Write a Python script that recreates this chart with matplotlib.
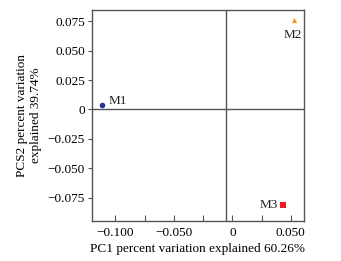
import matplotlib

matplotlib.use("Agg")

import matplotlib.pyplot as plt

plt.rcParams["font.family"] = ["Liberation Serif", "DejaVu Serif"]

# PCA scores
samples = ["M1", "M2", "M3"]
pc1 = [-0.1117, 0.0528, 0.0437]
pc2 = [0.0038, 0.0764, -0.0815]
colors = ["#2e3192", "#f7931e", "#ed1c24"]
markers = ["o", "^", "s"]
marker_sizes = [16, 14, 20]
label_offsets = [(5, 3), (-1, -11), (-17, 0)]
label_ha = ["left", "center", "left"]

x_ticks = [-0.100, -0.075, -0.050, -0.025, 0, 0.025, 0.050]
x_tick_labels = ["\u22120.100", "", "\u22120.050", "", "0", "", "0.050"]
y_ticks = [-0.075, -0.050, -0.025, 0, 0.025, 0.050, 0.075]
y_tick_labels = ["\u22120.075", "\u22120.050", "\u22120.025", "0", "0.025", "0.050", "0.075"]

fig = plt.figure(figsize=(3.41, 2.61), dpi=100)
ax = fig.add_axes([92 / 341, 1 - 221 / 261, 212 / 341, 211.5 / 261])

frame = "#555555"
ax.axhline(0, color=frame, linewidth=1.0, zorder=1)
ax.axvline(-0.005, color=frame, linewidth=1.0, zorder=1)

for name, x, y, c, m, s, off, ha in zip(samples, pc1, pc2, colors, markers,
                                        marker_sizes, label_offsets, label_ha):
    ax.scatter(x, y, color=c, marker=m, s=s, linewidths=0, zorder=3)
    ax.annotate(name, (x, y), xytext=off, textcoords="offset points",
                fontsize=9.5, color="#222222", va="center", ha=ha)

ax.set_xlim(-0.12, 0.0613)
ax.set_ylim(-0.095, 0.085)

ax.set_xticks(x_ticks)
ax.set_xticklabels(x_tick_labels)
ax.set_yticks(y_ticks)
ax.set_yticklabels(y_tick_labels)
ax.tick_params(axis="x", direction="in", length=4, width=0.8, color=frame, labelsize=9.5, pad=4)
ax.tick_params(axis="y", direction="out", length=3, width=0.8, color=frame, labelsize=9.5, pad=2)

for spine in ax.spines.values():
    spine.set_color(frame)
    spine.set_linewidth(1.0)

ax.set_xlabel("PC1 percent variation explained 60.26%", fontsize=9.5, labelpad=3)
ax.set_ylabel("PCS2 percent variation\nexplained 39.74%", fontsize=9.5, labelpad=4)

fig.savefig("out.png", dpi=100)
